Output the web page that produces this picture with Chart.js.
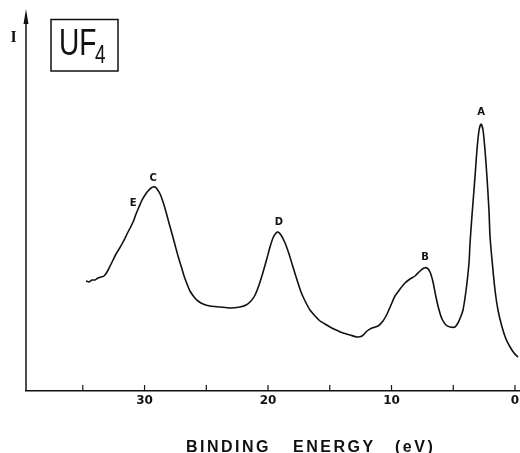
<!DOCTYPE html>
<html>
<head>
<meta charset="utf-8">
<script src="https://cdn.jsdelivr.net/npm/chart.js@4"></script>
<style>
  html, body { margin: 0; padding: 0; background: #fff; }
  #wrap { width: 520px; height: 453px; }
</style>
</head>
<body>
<div id="wrap"><canvas id="c" width="520" height="453"></canvas></div>
<script>
// Binding energy (eV) of each traced point
const energy = [
  34.74, 34.49, 34.25, 34.01, 33.77, 33.52, 33.28, 33.04, 32.79, 32.55,
  32.31, 32.06, 31.74, 31.42, 31.17, 30.93, 30.69, 30.45, 30.20, 29.96,
  29.72, 29.47, 29.31, 29.15, 28.99, 28.74, 28.50, 28.26, 28.02, 27.77,
  27.53, 27.29, 27.04, 26.80, 26.56, 26.32, 25.99, 25.67, 25.26, 24.70,
  23.89, 23.08, 22.27, 21.78, 21.38, 21.05, 20.73, 20.40, 20.08, 19.84,
  19.60, 19.35, 19.19, 18.95, 18.62, 18.30, 17.98, 17.65, 17.33, 17.00,
  16.60, 16.19, 15.79, 15.38, 14.98, 14.49, 13.93, 13.36, 12.79, 12.39,
  11.98, 11.58, 11.09, 10.69, 10.36, 10.04, 9.72, 9.31, 8.91, 8.50,
  8.10, 7.69, 7.37, 7.13, 6.88, 6.64, 6.40, 6.15, 5.91, 5.59,
  5.26, 4.86, 4.62, 4.37, 4.21, 4.05, 3.89, 3.72, 3.64, 3.48,
  3.24, 3.08, 2.91, 2.75, 2.59, 2.43, 2.27, 2.11, 2.02, 1.86,
  1.62, 1.38, 1.05, 0.73, 0.40, 0.08, -0.24
];
// Intensity (arbitrary units)
const intensity = [
  110, 109, 111, 111, 113, 114, 115, 119, 125, 131,
  137, 142, 149, 157, 163, 169, 177, 184, 191, 196,
  200, 203, 204, 204, 202, 197, 189, 179, 168, 157,
  146, 135, 125, 115, 107, 100, 94, 90, 87, 85,
  84, 83, 84, 86, 90, 96, 106, 119, 133, 144,
  153, 158, 159, 156, 148, 137, 124, 111, 99, 90,
  81, 75, 70, 67, 64, 61, 58, 56, 54, 55,
  60, 63, 65, 70, 77, 86, 95, 102, 108, 112,
  115, 120, 123, 123, 119, 109, 94, 81, 72, 66,
  64, 64, 68, 75, 81, 93, 108, 129, 148, 176,
  214, 241, 261, 267, 261, 241, 214, 181, 154, 131,
  101, 81, 64, 52, 44, 38, 34
];
// x-axis tick values and labels
const tickValues = [0, 5, 10, 15, 20, 25, 30, 35];
const tickLabels = ['0', '', '10', '', '20', '', '30', ''];
// Peak annotations: letter, energy, intensity
const peakNames = ['A', 'B', 'C', 'D', 'E'];
const peakEnergy = [2.75, 7.29, 29.31, 19.11, 30.93];
const peakIntensity = [279, 134, 213, 169, 188];

const axisTitleWords = ['BINDING', 'ENERGY', '(eV)'];

const points = energy.map((e, i) => ({ x: e, y: intensity[i] }));

const decor = {
  id: 'decor',
  afterDraw(chart) {
    const ctx = chart.ctx;
    const xs = chart.scales.x, ys = chart.scales.y;
    const area = chart.chartArea;
    ctx.save();
    ctx.strokeStyle = '#111';
    ctx.fillStyle = '#111';
    // Y axis with arrow
    ctx.lineWidth = 1.5;
    ctx.beginPath();
    ctx.moveTo(area.left, area.bottom);
    ctx.lineTo(area.left, 14);
    ctx.stroke();
    ctx.beginPath();
    ctx.moveTo(area.left, 9);
    ctx.lineTo(area.left - 2.5, 24);
    ctx.lineTo(area.left + 2.5, 24);
    ctx.closePath();
    ctx.fill();
    // upward tick marks
    ctx.lineWidth = 1.2;
    tickValues.forEach(v => {
      const px = xs.getPixelForValue(v);
      ctx.beginPath();
      ctx.moveTo(px, area.bottom);
      ctx.lineTo(px, area.bottom - 6);
      ctx.stroke();
    });
    // peak labels
    ctx.font = 'bold 10px "DejaVu Sans"';
    ctx.textAlign = 'center';
    ctx.textBaseline = 'middle';
    peakNames.forEach((n, i) => {
      ctx.fillText(n, xs.getPixelForValue(peakEnergy[i]), ys.getPixelForValue(peakIntensity[i]));
    });
    // I label
    ctx.font = 'bold 16px "Liberation Serif"';
    ctx.fillText('I', 13.5, 38);
    // UF4 box
    ctx.lineWidth = 1.5;
    ctx.strokeRect(51, 19.5, 67, 51.5);
    ctx.textAlign = 'left';
    ctx.textBaseline = 'alphabetic';
    ctx.save();
    ctx.translate(59, 55);
    ctx.scale(0.76, 1);
    ctx.font = '37px "Liberation Sans"';
    ctx.fillText('UF', 0, 0);
    const w = ctx.measureText('UF').width;
    ctx.font = '25px "Liberation Sans"';
    ctx.fillText('4', w - 2, 8);
    ctx.restore();
    // axis title
    ctx.font = 'bold 16px "Liberation Sans"';
    ctx.letterSpacing = '2.5px';
    ctx.textBaseline = 'alphabetic';
    const starts = [186, 293, 395];
    axisTitleWords.forEach((t, i) => ctx.fillText(t, starts[i], 451.5));
    ctx.letterSpacing = '0px';
    ctx.restore();
  }
};

new Chart(document.getElementById('c'), {
  type: 'line',
  data: {
    datasets: [{
      data: points,
      borderColor: '#111',
      borderWidth: 1.6,
      pointRadius: 0,
      tension: 0.25,
      fill: false
    }]
  },
  options: {
    responsive: false,
    animation: false,
    devicePixelRatio: 1,
    layout: { padding: { left: 26, top: 5, right: 0, bottom: 45 } },
    plugins: { legend: { display: false }, tooltip: { enabled: false }, title: { display: false } },
    scales: {
      x: {
        type: 'linear',
        reverse: true,
        min: -0.405,
        max: 39.6,
        afterBuildTicks(scale) { scale.ticks = tickValues.map(v => ({ value: v })); },
        afterFit(scale) { scale.height = 17; },
        ticks: {
          autoSkip: false,
          maxRotation: 0,
          padding: 3,
          color: '#111',
          font: { family: '"DejaVu Sans"', size: 12, weight: 'bold' },
          callback(v) { const i = tickValues.indexOf(v); return i >= 0 ? tickLabels[i] : ''; }
        },
        grid: { display: false, drawTicks: false, drawOnChartArea: false },
        border: { display: true, color: '#111', width: 1.5 }
      },
      y: {
        type: 'linear',
        display: false,
        min: 0,
        max: 386
      }
    }
  },
  plugins: [decor]
});
</script>
</body>
</html>
